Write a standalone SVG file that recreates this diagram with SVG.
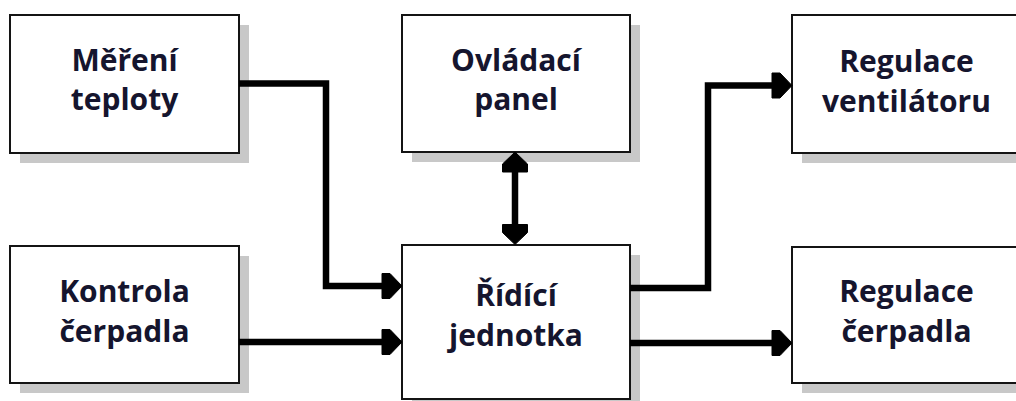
<svg xmlns="http://www.w3.org/2000/svg" width="1016" height="401" viewBox="0 0 1016 401">
<defs>
<style>
.sh{fill:#c8c8c8;stroke:none}
.bx{fill:#ffffff;stroke:#141414;stroke-width:2}
.t{font-family:"Open Sans","Noto Sans","Liberation Sans",sans-serif;font-weight:bold;font-size:30px;fill:#15152e;text-anchor:middle}
.ln{fill:none;stroke:#000;stroke-width:6.5;stroke-linejoin:miter;stroke-linecap:butt}
</style>
<marker id="ah" viewBox="0 -13 21 26" refX="0" refY="0" markerUnits="userSpaceOnUse" markerWidth="21" markerHeight="26" orient="auto" overflow="visible">
<path d="M0,-12.5 L8,-12.5 L20,0 L8,12.5 L0,12.5 Z" fill="#000" stroke="#000" stroke-width="1" stroke-linejoin="round"/>
</marker>
<marker id="ahs" viewBox="0 -13 21 26" refX="0" refY="0" markerUnits="userSpaceOnUse" markerWidth="21" markerHeight="26" orient="auto-start-reverse" overflow="visible">
<path d="M0,-12.5 L8,-12.5 L20,0 L8,12.5 L0,12.5 Z" fill="#000" stroke="#000" stroke-width="1" stroke-linejoin="round"/>
</marker>
</defs>
<rect width="1016" height="401" fill="#ffffff"/>

<g id="mereni-teploty">
<rect class="sh" x="20" y="25" width="229" height="138"/>
<rect class="bx" x="10" y="15" width="229" height="138"/>
<text class="t" x="124.5" y="71">Měření</text>
<text class="t" x="124.5" y="110">teploty</text>
</g>

<g id="kontrola-cerpadla">
<rect class="sh" x="20" y="256" width="229" height="137"/>
<rect class="bx" x="10" y="246" width="229" height="137"/>
<text class="t" x="124.5" y="302">Kontrola</text>
<text class="t" x="124.5" y="342">čerpadla</text>
</g>

<g id="ovladaci-panel">
<rect class="sh" x="412" y="25" width="228" height="137"/>
<rect class="bx" x="402" y="15" width="228" height="137"/>
<text class="t" x="516" y="71">Ovládací</text>
<text class="t" x="516" y="110">panel</text>
</g>

<g id="ridici-jednotka">
<rect class="sh" x="412" y="255" width="228" height="154"/>
<rect class="bx" x="402" y="245" width="228" height="154"/>
<text class="t" x="516" y="306">Řídící</text>
<text class="t" x="516" y="346">jednotka</text>
</g>

<g id="regulace-ventilatoru">
<rect class="sh" x="802" y="25" width="229" height="138"/>
<rect class="bx" x="792" y="15" width="229" height="138"/>
<text class="t" x="906.5" y="72">Regulace</text>
<text class="t" x="906.5" y="112">ventilátoru</text>
</g>

<g id="regulace-cerpadla">
<rect class="sh" x="802" y="257" width="229" height="136"/>
<rect class="bx" x="792" y="247" width="229" height="136"/>
<text class="t" x="906.5" y="302">Regulace</text>
<text class="t" x="906.5" y="342">čerpadla</text>
</g>

<g id="connectors">
<polyline class="ln" points="239,83.5 326,83.5 326,286 382,286" marker-end="url(#ah)"/>
<line class="ln" x1="239" y1="342" x2="382" y2="342" marker-end="url(#ah)"/>
<line class="ln" x1="515" y1="172" x2="515" y2="224.5" marker-start="url(#ahs)" marker-end="url(#ah)"/>
<polyline class="ln" points="630,288 708,288 708,85.5 772,85.5" marker-end="url(#ah)"/>
<line class="ln" x1="630" y1="343" x2="772" y2="343" marker-end="url(#ah)"/>
</g>
</svg>
